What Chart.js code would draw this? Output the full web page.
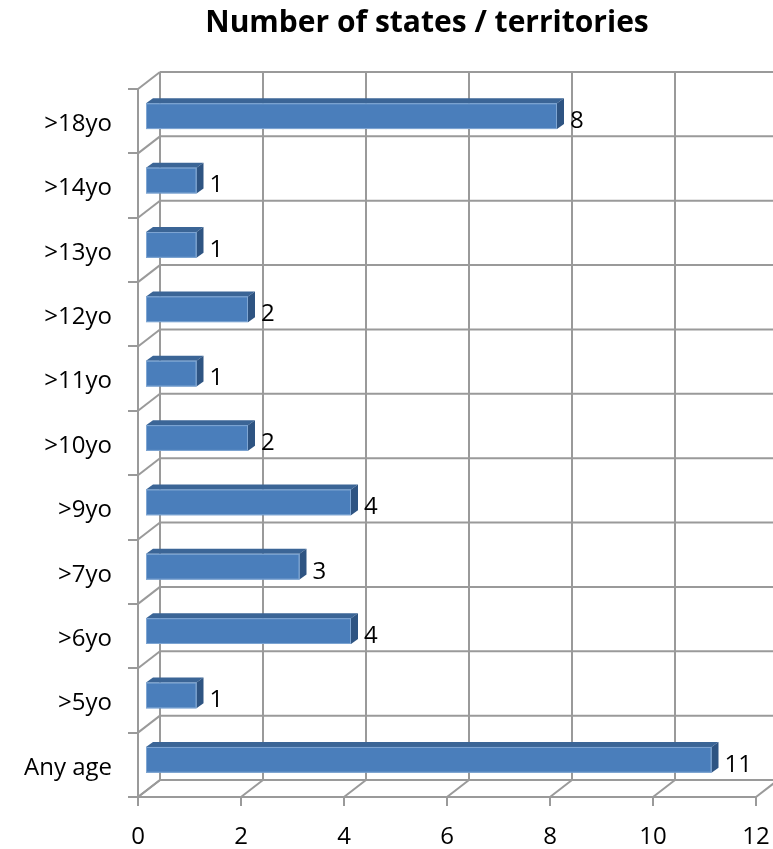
<!DOCTYPE html>
<html>
<head>
<meta charset="utf-8">
<script src="https://cdn.jsdelivr.net/npm/chart.js@4"></script>
<style>
  html, body { margin: 0; padding: 0; background: #fff; }
  #wrap { width: 773px; height: 849px; }
</style>
</head>
<body>
<div id="wrap"><canvas id="barChart" width="773" height="849"></canvas></div>
<script>
const chartTitle = 'Number of states / territories';
const categories = ['>18yo', '>14yo', '>13yo', '>12yo', '>11yo', '>10yo', '>9yo', '>7yo', '>6yo', '>5yo', 'Any age'];
const counts = [8, 1, 1, 2, 1, 2, 4, 3, 4, 1, 11];
const xTicks = [0, 2, 4, 6, 8, 10, 12];

const gridColor = '#9a9a9a';
const labelFont = { family: 'Open Sans', size: 24 };
const wallDepth = { dx: 22, dy: -17 };   // back wall offset
const barShift = { dx: 7, dy: -5 };      // bar front plane offset
const barDepth = { dx: 7, dy: -5 };      // depth of each bar

function line(ctx, x1, y1, x2, y2) {
    ctx.beginPath();
    ctx.moveTo(x1, y1);
    ctx.lineTo(x2, y2);
    ctx.stroke();
}

// title sits a bit right of centre, over the plot
const titlePlugin = {
    id: 'chartTitle',
    afterDraw(chart) {
        const { ctx } = chart;
        ctx.save();
        ctx.fillStyle = '#000';
        ctx.font = 'bold 30px "Open Sans"';
        ctx.textAlign = 'center';
        ctx.textBaseline = 'alphabetic';
        ctx.fillText(chartTitle, 427, 32);
        ctx.restore();
    }
};

// draws the back wall, the floor and the left wall of the 3d box
const wallsPlugin = {
    id: 'walls',
    beforeDatasetsDraw(chart) {
        const { ctx, chartArea: a, scales: { x } } = chart;
        const { dx, dy } = wallDepth;
        ctx.save();
        ctx.strokeStyle = gridColor;
        ctx.lineWidth = 2;
        // vertical lines on back wall + floor diagonals
        xTicks.forEach(v => {
            const px = x.getPixelForValue(v);
            line(ctx, px + dx, a.top + dy, px + dx, a.bottom + dy);
            line(ctx, px, a.bottom, px + dx, a.bottom + dy);
        });
        // horizontal lines on back wall + left wall diagonals
        for (let i = 0; i <= categories.length; i++) {
            const py = a.top + (a.bottom - a.top) * i / categories.length;
            line(ctx, a.left + dx, py + dy, a.right + dx + 10, py + dy);
            line(ctx, a.left, py, a.left + dx, py + dy);
        }
        ctx.restore();
    }
};

// draws each bar as a box, plus the value label
const boxBarsPlugin = {
    id: 'boxBars',
    afterDatasetsDraw(chart) {
        const { ctx } = chart;
        const meta = chart.getDatasetMeta(0);
        ctx.save();
        meta.data.forEach((bar, i) => {
            const x0 = bar.base + barShift.dx;
            const x1 = bar.x + barShift.dx;
            const top = bar.y - bar.height / 2 + barShift.dy;
            const bottom = bar.y + bar.height / 2 + barShift.dy;
            const ddx = barDepth.dx, ddy = barDepth.dy;

            // top face
            ctx.fillStyle = '#3b6596';
            ctx.beginPath();
            ctx.moveTo(x0, top);
            ctx.lineTo(x0 + ddx, top + ddy);
            ctx.lineTo(x1 + ddx, top + ddy);
            ctx.lineTo(x1, top);
            ctx.closePath();
            ctx.fill();

            // side face
            ctx.fillStyle = '#2e5482';
            ctx.beginPath();
            ctx.moveTo(x1, top);
            ctx.lineTo(x1 + ddx, top + ddy);
            ctx.lineTo(x1 + ddx, bottom + ddy);
            ctx.lineTo(x1, bottom);
            ctx.closePath();
            ctx.fill();

            // front face
            ctx.fillStyle = '#4a7ebb';
            ctx.fillRect(x0, top, x1 - x0, bottom - top);
            ctx.strokeStyle = '#7fa6d3';
            ctx.lineWidth = 1;
            ctx.strokeRect(x0 + 0.5, top + 0.5, x1 - x0 - 1, bottom - top - 1);

            // value label
            ctx.fillStyle = '#000';
            ctx.font = labelFont.size + 'px "' + labelFont.family + '"';
            ctx.textAlign = 'left';
            ctx.textBaseline = 'middle';
            ctx.fillText(String(counts[i]), x1 + ddx + 6, bar.y + barShift.dy + 5);
        });
        ctx.restore();
    }
};

const ctx = document.getElementById('barChart').getContext('2d');

const barChart = new Chart(ctx, {
    type: 'bar',
    data: {
        labels: categories,
        datasets: [{
            label: chartTitle,
            data: counts,
            backgroundColor: 'rgba(0,0,0,0)',
            borderWidth: 0,
            categoryPercentage: 1,
            barPercentage: 0.4
        }]
    },
    options: {
        indexAxis: 'y',
        responsive: false,
        animation: false,
        layout: {
            padding: { left: 0, right: 17, top: 89, bottom: 0 }
        },
        plugins: {
            legend: { display: false },
            tooltip: { enabled: false },
            title: { display: false }
        },
        scales: {
            x: {
                min: 0,
                max: 12,
                // fixed height; tick padding should not eat into the right side
                afterFit: (scale) => { scale.height = 52; scale.paddingRight = 0; },
                afterBuildTicks: (scale) => { scale.ticks = xTicks.map(v => ({ value: v })); },
                grid: { drawOnChartArea: false, tickLength: 9, color: gridColor, lineWidth: 2 },
                border: { color: gridColor, width: 2 },
                ticks: {
                    color: '#000',
                    padding: 17,
                    maxRotation: 0,
                    font: labelFont
                }
            },
            y: {
                afterFit: (scale) => { scale.width = 138; },
                grid: { drawOnChartArea: false, offset: true, tickLength: 10, color: gridColor, lineWidth: 2 },
                border: { color: gridColor, width: 2 },
                ticks: {
                    color: '#000',
                    padding: 16,
                    labelOffset: 3,
                    font: labelFont
                }
            }
        }
    },
    plugins: [wallsPlugin, boxBarsPlugin, titlePlugin]
});
</script>
</body>
</html>
